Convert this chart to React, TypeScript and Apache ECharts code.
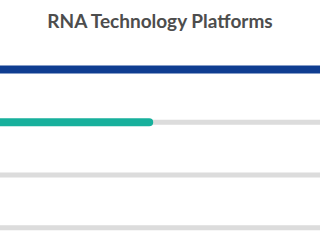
import React, { useEffect, useRef } from "react";
import * as echarts from "echarts";

const title = "RNA Technology Platforms";
const categories = ["Platform A", "Platform B", "Platform C", "Platform D"];
const progressValues = [100, 48, 0, 0];
const trackValues = [100, 100, 100, 100];
const barColors = ["#0f3d91", "#17b09c", "#17b09c", "#17b09c"];

export default function App() {
  const ref = useRef<HTMLDivElement>(null);
  useEffect(() => {
    if (!ref.current) return;
    const chart = echarts.init(ref.current, null, { renderer: "svg" });
    chart.setOption({
      animation: false,
      title: {
        text: title,
        left: "center",
        top: 6,
        textStyle: {
          fontFamily: "Lato",
          fontWeight: "bold",
          fontSize: 19,
          color: "#4d4d4d",
        },
      },
      grid: { left: 0, right: 0, top: 43, bottom: 6, containLabel: false },
      xAxis: { type: "value", min: 0, max: 100, show: false },
      yAxis: [
        { type: "category", data: categories, inverse: true, show: false },
        { type: "category", data: categories, inverse: true, show: false },
      ],
      series: [
        {
          type: "bar",
          yAxisIndex: 0,
          data: trackValues,
          barWidth: 5,
          itemStyle: { color: "#dcdcdc", borderRadius: 3 },
          silent: true,
        },
        {
          type: "bar",
          yAxisIndex: 1,
          data: progressValues.map((v, i) => ({ value: v, itemStyle: { color: barColors[i] } })),
          barWidth: 8,
          itemStyle: { borderRadius: 4 },
        },
      ],
    });
    return () => chart.dispose();
  }, []);
  return (
    <div style={{ position: "absolute", left: 0, top: 0, width: 320, height: 240, overflow: "hidden" }}>
      <div ref={ref} style={{ width: 340, height: 260, position: "absolute", left: -10, top: 0 }} />
    </div>
  );
}
